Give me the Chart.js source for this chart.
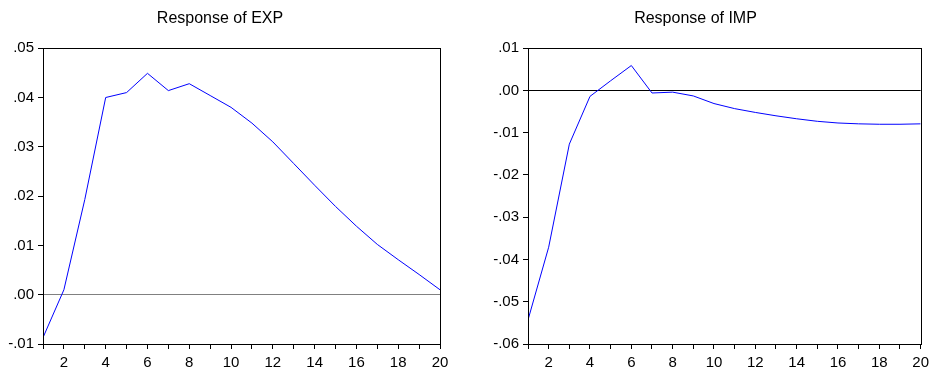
<!DOCTYPE html>
<html>
<head>
<meta charset="utf-8">
<script src="https://cdn.jsdelivr.net/npm/chart.js@4"></script>
<style>
  body { margin: 0; background: #fff; }
  canvas { position: absolute; top: 0; }
  #expChart { left: 0; }
  #impChart { left: 467px; }
</style>
</head>
<body>
<canvas id="expChart" width="467" height="371"></canvas>
<canvas id="impChart" width="467" height="371"></canvas>
<script>
const periods = [1, 2, 3, 4, 5, 6, 7, 8, 9, 10, 11, 12, 13, 14, 15, 16, 17, 18, 19, 20];

const expResponse = [-0.0087, 0.0010, 0.0193, 0.0400, 0.0410, 0.0449, 0.0414, 0.0428, 0.0404, 0.0380,
  0.0348, 0.0310, 0.0266, 0.0222, 0.0179, 0.0139, 0.0102, 0.0071, 0.0041, 0.0010];

const impResponse = [-0.0543, -0.0371, -0.0127, -0.0014, 0.0023, 0.0059, -0.0006, -0.0004, -0.0013, -0.0031,
  -0.0043, -0.0052, -0.0060, -0.0067, -0.0073, -0.0077, -0.0079, -0.0080, -0.0080, -0.0079];

const FONT = "'Liberation Sans', Arial, sans-serif";

// draws the closed box round the plot area
const framePlugin = {
  id: "frame",
  afterDraw(chart) {
    const { ctx, chartArea: a } = chart;
    ctx.save();
    ctx.strokeStyle = "#000";
    ctx.lineWidth = 1;
    ctx.strokeRect(Math.round(a.left) + 0.5, Math.round(a.top) + 0.5,
      Math.round(a.right - a.left), Math.round(a.bottom - a.top));
    ctx.restore();
  }
};

function fmtTick(v) {
  if (Math.abs(v) < 1e-9) return ".00";
  return v.toFixed(2).replace("0.", ".");
}

function makeChart(id, title, values, yMin, yMax, yWidth, padRight, zeroColor) {
  return new Chart(document.getElementById(id), {
    type: "line",
    data: {
      datasets: [{
        data: periods.map((p, i) => ({ x: p, y: values[i] })),
        borderColor: "#0000ff",
        borderWidth: 1,
        pointRadius: 0,
        tension: 0,
        fill: false
      }]
    },
    options: {
      responsive: false,
      animation: false,
      devicePixelRatio: 1,
      layout: { padding: { left: 0, right: padRight, top: 0, bottom: 0 } },
      plugins: {
        legend: { display: false },
        tooltip: { enabled: false },
        title: {
          display: true,
          text: title,
          color: "#000",
          font: { family: FONT, size: 16, weight: "normal" },
          padding: { top: 9, bottom: 20 }
        }
      },
      scales: {
        x: {
          type: "linear",
          min: 1,
          max: 20,
          afterFit: (s) => { s.height = 27; },
          border: { color: "#000", width: 1 },
          grid: { drawOnChartArea: false, tickLength: 5, tickColor: "#000" },
          ticks: {
            stepSize: 1,
            autoSkip: false,
            maxRotation: 0,
            padding: 5,
            color: "#000",
            font: { family: FONT, size: 15 },
            callback: (v) => (v % 2 === 0 ? String(v) : "")
          }
        },
        y: {
          min: yMin,
          max: yMax,
          afterFit: (s) => { s.width = yWidth; },
          border: { color: "#000", width: 1 },
          grid: {
            tickLength: 5,
            tickColor: "#000",
            color: (c) => (c.tick && Math.abs(c.tick.value) < 1e-9 ? zeroColor : "rgba(0,0,0,0)")
          },
          ticks: {
            stepSize: 0.01,
            padding: 4,
            color: "#000",
            font: { family: FONT, size: 15 },
            callback: fmtTick
          }
        }
      }
    },
    plugins: [framePlugin]
  });
}

makeChart("expChart", "Response of EXP", expResponse, -0.01, 0.05, 43, 27, "#808080");
makeChart("impChart", "Response of IMP", impResponse, -0.06, 0.01, 61, 10, "#000");
</script>
</body>
</html>
